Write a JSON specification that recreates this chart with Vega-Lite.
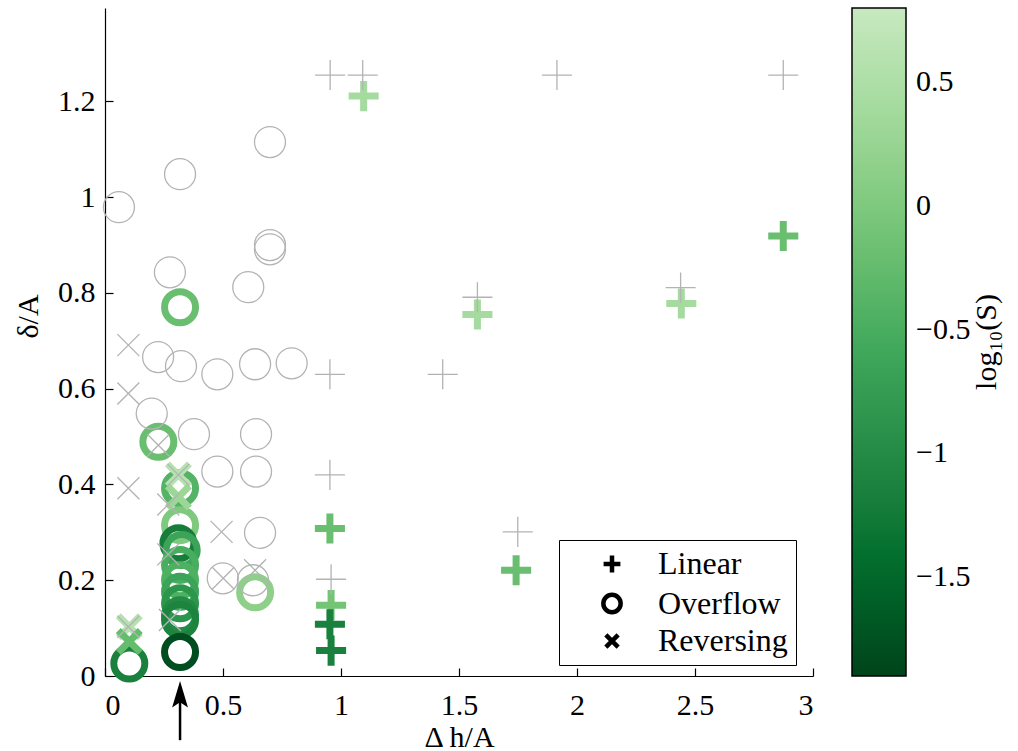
{
  "$schema": "https://vega.github.io/schema/vega-lite/v6.json",
  "width": 708,
  "height": 668,
  "autosize": "none",
  "padding": {"left": 105, "top": 8, "right": 205, "bottom": 75},
  "background": "white",
  "title": {
    "text": "log₁₀(S)",
    "orient": "right",
    "frame": "group",
    "anchor": "middle",
    "angle": 270,
    "baseline": "middle",
    "offset": -14,
    "font": "Liberation Serif",
    "fontSize": 30,
    "fontWeight": "normal",
    "color": "black"
  },
  "config": {
    "font": "Liberation Serif",
    "view": {"stroke": null},
    "axis": {
      "grid": false,
      "domainColor": "black",
      "domainWidth": 1.2,
      "tickColor": "black",
      "tickWidth": 1.2,
      "tickSize": -8,
      "labelFontSize": 30,
      "labelColor": "black",
      "labelFont": "Liberation Serif",
      "titleFont": "Liberation Serif",
      "titleFontSize": 30,
      "titleFontWeight": "normal",
      "titleColor": "black"
    },
    "legend": {
      "labelFont": "Liberation Serif",
      "titleFont": "Liberation Serif",
      "labelColor": "black",
      "titleColor": "black"
    }
  },
  "datasets": {
    "grey": [
      {"type": "Linear", "dh": 0.954, "delta": 1.255},
      {"type": "Linear", "dh": 1.092, "delta": 1.255},
      {"type": "Linear", "dh": 1.915, "delta": 1.255},
      {"type": "Linear", "dh": 2.874, "delta": 1.255},
      {"type": "Linear", "dh": 1.578, "delta": 0.791},
      {"type": "Linear", "dh": 2.439, "delta": 0.811},
      {"type": "Linear", "dh": 0.953, "delta": 0.63},
      {"type": "Linear", "dh": 1.431, "delta": 0.63},
      {"type": "Linear", "dh": 0.953, "delta": 0.42},
      {"type": "Linear", "dh": 1.749, "delta": 0.301},
      {"type": "Linear", "dh": 0.958, "delta": 0.202},
      {"type": "Overflow", "dh": 0.059, "delta": 0.979},
      {"type": "Overflow", "dh": 0.318, "delta": 1.048},
      {"type": "Overflow", "dh": 0.699, "delta": 1.115},
      {"type": "Overflow", "dh": 0.275, "delta": 0.843},
      {"type": "Overflow", "dh": 0.699, "delta": 0.9},
      {"type": "Overflow", "dh": 0.699, "delta": 0.891},
      {"type": "Overflow", "dh": 0.607, "delta": 0.812},
      {"type": "Overflow", "dh": 0.225, "delta": 0.666},
      {"type": "Overflow", "dh": 0.322, "delta": 0.647},
      {"type": "Overflow", "dh": 0.476, "delta": 0.63},
      {"type": "Overflow", "dh": 0.636, "delta": 0.651},
      {"type": "Overflow", "dh": 0.791, "delta": 0.653},
      {"type": "Overflow", "dh": 0.198, "delta": 0.548},
      {"type": "Overflow", "dh": 0.377, "delta": 0.505},
      {"type": "Overflow", "dh": 0.64, "delta": 0.505},
      {"type": "Overflow", "dh": 0.476, "delta": 0.427},
      {"type": "Overflow", "dh": 0.64, "delta": 0.427},
      {"type": "Overflow", "dh": 0.657, "delta": 0.299},
      {"type": "Overflow", "dh": 0.499, "delta": 0.204},
      {"type": "Overflow", "dh": 0.627, "delta": 0.2},
      {"type": "Reversing", "dh": 0.099, "delta": 0.691},
      {"type": "Reversing", "dh": 0.099, "delta": 0.59},
      {"type": "Reversing", "dh": 0.099, "delta": 0.392},
      {"type": "Reversing", "dh": 0.226, "delta": 0.482},
      {"type": "Reversing", "dh": 0.494, "delta": 0.301},
      {"type": "Reversing", "dh": 0.501, "delta": 0.204},
      {"type": "Reversing", "dh": 0.268, "delta": 0.358},
      {"type": "Reversing", "dh": 0.268, "delta": 0.254},
      {"type": "Reversing", "dh": 0.275, "delta": 0.117},
      {"type": "Reversing", "dh": 0.099, "delta": 0.103},
      {"type": "Reversing", "dh": 0.636, "delta": 0.221},
      {"type": "Reversing", "dh": 0.311, "delta": 0.42}
    ],
    "green": [
      {"type": "Linear", "dh": 1.096, "delta": 1.211, "logS": 0.4},
      {"type": "Linear", "dh": 1.578, "delta": 0.755, "logS": 0.4},
      {"type": "Linear", "dh": 2.442, "delta": 0.778, "logS": 0.4},
      {"type": "Linear", "dh": 2.874, "delta": 0.919, "logS": -0.2},
      {"type": "Linear", "dh": 0.953, "delta": 0.308, "logS": -0.2},
      {"type": "Linear", "dh": 1.742, "delta": 0.221, "logS": -0.2},
      {"type": "Linear", "dh": 0.958, "delta": 0.148, "logS": -0.1},
      {"type": "Linear", "dh": 0.953, "delta": 0.108, "logS": -1.15},
      {"type": "Linear", "dh": 0.958, "delta": 0.053, "logS": -1.15},
      {"type": "Overflow", "dh": 0.318, "delta": 0.77, "logS": -0.2},
      {"type": "Overflow", "dh": 0.226, "delta": 0.489, "logS": -0.2},
      {"type": "Overflow", "dh": 0.636, "delta": 0.175, "logS": 0.15},
      {"type": "Overflow", "dh": 0.103, "delta": 0.026, "logS": -1.15},
      {"type": "Overflow", "dh": 0.318, "delta": 0.392, "logS": -0.4},
      {"type": "Overflow", "dh": 0.318, "delta": 0.315, "logS": 0.0},
      {"type": "Overflow", "dh": 0.311, "delta": 0.277, "logS": -1.2},
      {"type": "Overflow", "dh": 0.325, "delta": 0.263, "logS": -0.65},
      {"type": "Overflow", "dh": 0.318, "delta": 0.232, "logS": -0.5},
      {"type": "Overflow", "dh": 0.318, "delta": 0.2, "logS": -0.45},
      {"type": "Overflow", "dh": 0.318, "delta": 0.176, "logS": -0.65},
      {"type": "Overflow", "dh": 0.318, "delta": 0.152, "logS": -0.85},
      {"type": "Overflow", "dh": 0.318, "delta": 0.127, "logS": -1.0},
      {"type": "Overflow", "dh": 0.318, "delta": 0.117, "logS": -1.1},
      {"type": "Overflow", "dh": 0.318, "delta": 0.05, "logS": -1.8},
      {"type": "Reversing", "dh": 0.311, "delta": 0.42, "logS": 0.6},
      {"type": "Reversing", "dh": 0.311, "delta": 0.374, "logS": 0.3},
      {"type": "Reversing", "dh": 0.103, "delta": 0.103, "logS": 0.6},
      {"type": "Reversing", "dh": 0.103, "delta": 0.072, "logS": -0.25}
    ],
    "arrow": [
      {"dh": 0.318, "top": -0.035, "bottom": -0.134, "head": -0.038}
    ]
  },
  "layer": [
    {
      "data": {"name": "green"},
      "mark": {"type": "point", "filled": false, "strokeWidth": 7, "size": 961, "opacity": 1},
      "encoding": {
        "x": {
          "field": "dh", "type": "quantitative",
          "scale": {"domain": [0, 3], "nice": false, "zero": false},
          "axis": {"values": [0, 0.5, 1, 1.5, 2, 2.5, 3], "format": "~g", "title": "Δ h/A", "labelPadding": 22, "titlePadding": 2}
        },
        "y": {
          "field": "delta", "type": "quantitative",
          "scale": {"domain": [0, 1.395], "nice": false, "zero": false},
          "axis": {"values": [0, 0.2, 0.4, 0.6, 0.8, 1, 1.2], "format": "~g", "title": "δ/A", "labelPadding": 18, "titlePadding": 14, "titleY": 308}
        },
        "shape": {
          "field": "type", "type": "nominal",
          "scale": {"domain": ["Linear", "Overflow", "Reversing"], "range": ["M-0.97,0H0.97M0,-0.97V0.97", "circle", "M-0.71,-0.71L0.71,0.71M-0.71,0.71L0.71,-0.71"]},
          "legend": {
            "orient": "none", "legendX": 454, "legendY": 532,
            "title": null,
            "strokeColor": "black", "fillColor": "white",
            "padding": 8,
            "labelFontSize": 32,
            "symbolOffset": 29,
            "labelOffset": 30,
            "rowPadding": 3.5,
            "symbolSize": 300,
            "symbolStrokeWidth": 4.5,
            "symbolStrokeColor": "black",
            "encode": {"symbols": {"update": {"stroke": {"value": "black"}, "fill": {"value": "transparent"}, "strokeWidth": {"value": 4.5}, "opacity": {"value": 1}}}}
          }
        },
        "color": {
          "field": "logS", "type": "quantitative",
          "scale": {
            "domain": [-1.9, -1.45, -1.0, -0.55, -0.1, 0.35, 0.8],
            "range": ["#00441b", "#006d2c", "#238b45", "#41ab5d", "#74c476", "#a1d99b", "#c7e9c0"]
          },
          "legend": {
            "orient": "none", "legendX": 747, "legendY": 0,
            "direction": "vertical",
            "gradientLength": 668, "gradientThickness": 54,
            "gradientStrokeColor": "black", "gradientStrokeWidth": 1.5,
            "values": [-1.5, -1, -0.5, 0, 0.5],
            "format": "~g",
            "labelFontSize": 30, "labelOffset": 10, "labelOverlap": false,
            "title": null
          }
        }
      }
    },
    {
      "data": {"name": "grey"},
      "mark": {"type": "point", "filled": false, "strokeWidth": 1.3, "size": 961, "opacity": 1, "color": "#b3b3b3"},
      "encoding": {
        "x": {"field": "dh", "type": "quantitative", "scale": {"domain": [0, 3], "nice": false, "zero": false}},
        "y": {"field": "delta", "type": "quantitative", "scale": {"domain": [0, 1.395], "nice": false, "zero": false}},
        "shape": {"field": "type", "type": "nominal"}
      }
    },
    {
      "data": {"name": "arrow"},
      "mark": {"type": "rule", "color": "black", "strokeWidth": 2.5},
      "encoding": {
        "x": {"field": "dh", "type": "quantitative", "scale": {"domain": [0, 3], "nice": false, "zero": false}},
        "y": {"field": "top", "type": "quantitative", "scale": {"domain": [0, 1.395], "nice": false, "zero": false}},
        "y2": {"field": "bottom"}
      }
    },
    {
      "data": {"name": "arrow"},
      "mark": {"type": "point", "filled": true, "color": "black", "opacity": 1, "size": 700, "shape": "M0,-1L0.6,1L0,0.6L-0.6,1Z"},
      "encoding": {
        "x": {"field": "dh", "type": "quantitative", "scale": {"domain": [0, 3], "nice": false, "zero": false}},
        "y": {"field": "head", "type": "quantitative", "scale": {"domain": [0, 1.395], "nice": false, "zero": false}}
      }
    }
  ]
}
